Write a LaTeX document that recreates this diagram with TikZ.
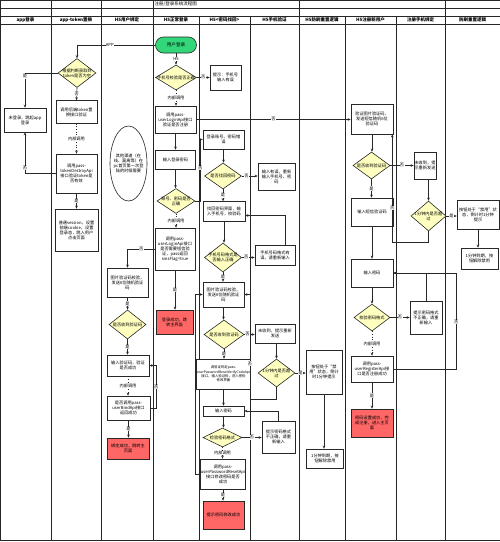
\documentclass[tikz,border=0pt]{standalone}
\usepackage{fontspec}
\setmainfont{Noto Sans CJK SC}
\usetikzlibrary{arrows.meta,shapes.geometric,calc}
\definecolor{linec}{RGB}{40,40,40}
\definecolor{diafill}{RGB}{255,255,192}
\definecolor{redfill}{RGB}{255,102,102}
\definecolor{greenfill}{RGB}{51,214,120}
\tikzset{
  base/.style={font=\fontsize{4.2}{5}\selectfont, align=center, inner sep=0.5pt},
  bx/.style={base, rectangle, draw=linec, fill=white, line width=0.6pt},
  redbx/.style={bx, fill=redfill},
  dia/.style={diamond, draw=linec, fill=diafill, line width=0.6pt, inner sep=0pt},
  dtxt/.style={base},
  arr/.style={-{Stealth[length=3pt,width=2.6pt]}, line width=0.6pt, draw=linec},
  darr/.style={arr, dotted},
  lab/.style={base, fill=white, inner sep=0.4pt},
  lane/.style={line width=0.7pt, draw=black!85},
  hdr/.style={font=\fontsize{4.5}{5}\selectfont\bfseries, inner sep=0pt}
}
\begin{document}
\begin{tikzpicture}[x=1pt,y=-1pt]
\useasboundingbox (0,0) rectangle (500,542);
\fill[white] (0,0) rectangle (500,542);
% frame and lanes
\draw[lane] (0,0.5) rectangle (500,540);
\foreach \y in {8,16,24} \draw[lane] (0,\y) -- (500,\y);
\foreach \x in {51,101,153,299,445} \draw[lane] (\x,0.5) -- (\x,540);
\foreach \x in {199,250,345,396} \draw[lane] (\x,16) -- (\x,540);
\node[base, anchor=west, font=\fontsize{4.5}{5}\selectfont] (title) at (154,4.3) {注册/登录系统流程图};
\node[hdr] (h1) at (25.5,20) {app登录};
\node[hdr] (h2) at (76,20) {app-token置换};
\node[hdr] (h3) at (127,20) {H5用户绑定};
\node[hdr] (h4) at (176,20) {H5正常登录};
\node[hdr] (h5) at (224.5,20) {H5<密码找回>};
\node[hdr] (h6) at (274.5,20) {H5手机验证};
\node[hdr] (h7) at (322,20) {H5防刷重置逻辑};
\node[hdr] (h8) at (370.5,20) {H5注册新用户};
\node[hdr] (h9) at (420.5,20) {注册手机绑定};
\node[hdr] (h10) at (472.5,20) {防刷重置逻辑};

% app lane
\node[bx, minimum width=42pt, minimum height=24pt] (nA1) at (25,120) {未登录，跳起app\\登录};
% token lane
\node[dia, minimum width=38pt, minimum height=29pt] (dT1) at (77,73) {};
\node[dtxt] (dT1t) at (dT1) {根据判断获取到\\token是否为空};
\node[bx, minimum width=41pt, minimum height=23pt] (nT1) at (76.5,112) {调用后端token置\\换接口验证};
\node[bx, minimum width=41pt, minimum height=39pt] (nT2) at (76.5,173.5) {调用pass-\\tokenDestroyApi\\接口验证token是\\否有效};
\node[bx, minimum width=43pt, minimum height=42pt] (nT3) at (76.5,230) {普通session，设置\\前端cookie，设置\\登录态，跳入用户\\点击页面};
% bind lane
\node[ellipse, draw=linec, fill=white, line width=0.6pt, minimum width=37pt, minimum height=75pt, inner sep=0pt] (eB) at (128.5,163.5) {};
\node[base] (eBt) at (eB) {其他渠道（在\\线、莫离等）在\\pc首页第一次登\\陆的时候需要};
\node[bx, minimum width=41pt, minimum height=29pt] (nB1) at (127.5,282.5) {图片验证码校验，\\发送6位随机验证\\码};
\node[dia, minimum width=37pt, minimum height=29pt] (dB1) at (127.5,324.5) {};
\node[dtxt] (dB1t) at (dB1) {是否收到验证码};
\node[bx, minimum width=42pt, minimum height=21pt] (nB2) at (128,365.5) {输入验证码，验证\\是否成功};
\node[bx, minimum width=43pt, minimum height=24pt] (nB3) at (128.5,408) {是否调用pass-\\userBindApi接口\\返回成功};
\node[redbx, minimum width=42pt, minimum height=21pt] (rB) at (128,448.5) {绑定成功，跳转主\\页面};
% login lane
\node[base, draw=linec, fill=greenfill, line width=0.6pt, rounded corners=8pt, minimum width=41pt, minimum height=16pt, font=\fontsize{4.6}{5}\selectfont] (oL) at (176,45) {用户登录};
\node[dia, minimum width=41pt, minimum height=25pt] (dL1) at (176,77.5) {};
\node[dtxt] (dL1t) at (dL1) {手机号校验是否正确};
\node[bx, minimum width=41pt, minimum height=27pt] (nL1) at (175.5,119.5) {调用pass-\\userLoginApi接口\\验证是否注册};
\node[bx, minimum width=40pt, minimum height=19pt] (nL2) at (175.5,159.5) {输入登录密码};
\node[dia, minimum width=38pt, minimum height=25pt] (dL2) at (176,201) {};
\node[dtxt] (dL2t) at (dL2) {账号、密码是否\\正确};
\node[bx, minimum width=40pt, minimum height=42pt] (nL3) at (175,249) {调用pass-\\userLoginApi接口\\是否需要短信验\\证，pass返回\\smsFlag=true};
\node[redbx, minimum width=37pt, minimum height=24pt] (rL) at (174.5,322) {登录成功，跳\\转主界面};
% password lane
\node[bx, minimum width=31pt, minimum height=25pt] (nM0) at (225.5,77.5) {提示：手机号\\输入有误};
\node[bx, minimum width=41pt, minimum height=19pt] (nP1) at (223.5,139.5) {登录账号、密码错\\误};
\node[dia, minimum width=37pt, minimum height=26pt] (dP1) at (223,176) {};
\node[dtxt] (dP1t) at (dP1) {是否找回密码};
\node[bx, minimum width=42pt, minimum height=20pt] (nP2) at (224,211.5) {找回密码界面，输\\入手机号，校验码};
\node[dia, minimum width=37pt, minimum height=29pt] (dP2) at (223,257.5) {};
\node[dtxt] (dP2t) at (dP2) {手机号码格式是\\否输入正确};
\node[bx, minimum width=41pt, minimum height=25pt] (nP3) at (223.5,294.5) {图片验证码校验，\\发送6位随机验证\\码};
\node[dia, minimum width=40pt, minimum height=29pt] (dP3) at (224,334.5) {};
\node[dtxt] (dP3t) at (dP3) {是否收到验证码};
\node[bx, minimum width=47pt, minimum height=30pt, font=\fontsize{3.4}{4.4}\selectfont] (nP4) at (223.5,374) {调验证码走pass-\\userPasswordResetVerifyCodeApi\\接口，输入验证码，进入密码\\修改界面};
\node[bx, minimum width=41pt, minimum height=10pt] (nP5) at (223.5,411) {输入密码};
\node[dia, minimum width=39pt, minimum height=19pt] (dP4) at (222.5,437.5) {};
\node[dtxt] (dP4t) at (dP4) {检验密码格式};
\node[bx, minimum width=42pt, minimum height=30pt] (nP6) at (223,474) {调用pass-\\userPasswordResetApi\\接口修改密码是否\\成功};
\node[redbx, minimum width=41pt, minimum height=28pt] (rP) at (223.5,515) {提示密码修改成功};
% phone lane
\node[bx, minimum width=37pt, minimum height=27pt] (nM1) at (276.5,176.5) {输入有误，重新\\输入手机号、密\\码};
\node[bx, minimum width=40pt, minimum height=20pt] (nM2) at (275,255) {手机号码格式有\\误，请重新输入};
\node[bx, minimum width=40pt, minimum height=19pt] (nM3) at (275,333.5) {未收到，提示重新\\发送};
\node[dia, minimum width=37pt, minimum height=28pt] (dM1) at (276.5,373) {};
\node[dtxt] (dM1t) at (dM1) {1分钟内是否超\\过};
\node[bx, minimum width=33pt, minimum height=32pt] (nM4) at (278.5,437) {提示密码格式\\不正确，请重\\新输入};
% H5 anti-brush lane
\node[bx, minimum width=36pt, minimum height=44pt] (nF1) at (324,372) {按钮处于“禁\\用”状态，倒计\\时1分钟提示};
\node[bx, minimum width=37pt, minimum height=19pt] (nF2) at (325,458.5) {1分钟到期，按\\钮解除禁用};
% register lane
\node[bx, minimum width=42pt, minimum height=30pt] (nR1) at (372,119) {验证图片验证码，\\发送短信随机6位\\验证码};
\node[dia, minimum width=37pt, minimum height=27pt] (dR1) at (371.5,165.5) {};
\node[dtxt] (dR1t) at (dR1) {是否收到验证码};
\node[bx, minimum width=42pt, minimum height=28pt] (nR2) at (372,212) {输入短信验证码};
\node[bx, minimum width=42pt, minimum height=28pt] (nR3) at (372,273) {输入密码};
\node[dia, minimum width=36pt, minimum height=27pt] (dR2) at (372,317.5) {};
\node[dtxt] (dR2t) at (dR2) {校验密码格式};
\node[bx, minimum width=42pt, minimum height=26pt] (nR4) at (372,369) {调用pass-\\userRegisterApi接\\口是否注册成功};
\node[redbx, minimum width=42pt, minimum height=28pt] (rR) at (372,423) {密码设置成功，完\\成注册，进入主页\\面};
% register phone lane
\node[bx, minimum width=22pt, minimum height=27pt] (nS1) at (425,165.5) {未收到，提\\示重新发送};
\node[dia, minimum width=35pt, minimum height=30pt] (dS1) at (428.5,216) {};
\node[dtxt] (dS1t) at (dS1) {1分钟内是否超\\过};
\node[bx, minimum width=32pt, minimum height=33pt] (nS2) at (426,317.5) {提示密码格式\\不正确，请重\\新输入};
% anti-brush lane
\node[bx, minimum width=42pt, minimum height=29pt] (nX1) at (478,214.5) {按钮处于“禁用”状\\态，倒计时1分钟\\提示};
\node[bx, minimum width=37pt, minimum height=21pt] (nX2) at (479.5,258.5) {1分钟到期，按\\钮解除禁用};

% connectors
\draw[arr] (oL.west) -| node[lab, pos=0.29] {APP} (dT1.north);
\draw[arr] (oL.south) -- node[lab] {H5} (dL1.north);
\draw[arr] (dT1.west) -| node[lab, pos=0.55] {是} (nA1.north);
\draw[arr] (dT1.south) -- node[lab] {否} (nT1.north);
\draw[darr] (nT1.south) -- node[lab] {内部调用} (nT2.north);
\draw[arr] (nT2.west) -| node[lab, pos=0.57] {否} (nA1.south);
\draw[arr] (nT2.south) -- node[lab] {是} (nT3.north);

\draw[arr] (dL1.east) -- node[lab] {否} (dL1.east -| nM0.west);
\draw[darr] (dL1.south) -- node[lab] {内部调用} (dL1.south |- nL1.north);
\draw[arr] (nL1.east) -- node[lab] {否} (nL1.east -| nR1.west);
\draw[arr] (nL1.south) -- (nL1.south |- nL2.north);
\draw[arr] (nL2.south) -- (nL2.south |- dL2.north);
\draw[arr] (dL2.east) -- ++(5,0) |- node[lab, pos=0.27] {否} (nP1.west);
\draw[darr] (dL2.south) -- node[lab] {内部调用} (dL2.south |- nL3.north);
\draw[arr] (nL3.west) -| node[lab, pos=0.25] {否} (nB1.north);
\draw[arr] (nL3.south) -- node[lab] {是} (nL3.south |- rL.north);

\draw[arr] (nB1.south) -- node[lab] {是} (dB1.north);
\draw[arr] (dB1.south) -- node[lab] {是} (dB1.south |- nB2.north);
\draw[darr] (nB2.south) -- node[lab] {内部调用} (nB2.south |- nB3.north);
\draw[arr] (nB3.south) -- node[lab] {是} (nB3.south |- rB.north);
\draw[arr] (nB3.east) -- ++(6,0) |- node[lab, pos=0.25] {否} (nB2.east);

\draw[arr] (nP1.south) -- (nP1.south |- dP1.north);
\draw[arr] (dP1.east) -- node[lab, pos=0.3] {否} (dP1.east -| nM1.west);
\draw[arr] (dP1.south) -- node[lab] {是} (dP1.south |- nP2.north);
\draw[arr] (nP2.south) -- (nP2.south |- dP2.north);
\draw[arr] (dP2.east) -- node[lab, pos=0.35] {否} (dP2.east -| nM2.west);
\draw[arr] ([xshift=10pt]nM2.north) |- ([yshift=-4pt]nP2.east);
\draw[arr] (dP2.south) -- node[lab] {是} (dP2.south |- nP3.north);
\draw[arr] (nP3.south) -- (nP3.south |- dP3.north);
\draw[arr] (dP3.east) -- node[lab, pos=0.3] {否} (dP3.east -| nM3.west);
\draw[arr] (dM1.north |- nM3.south) -- (dM1.north);
\draw[arr] (dM1.east) -- node[lab] {是} (dM1.east -| nF1.west);
\draw[arr] (dM1.south) -- ++(0,12) -- ++(-26.5,0) |- node[lab, pos=0.17] {否} (nP3.east);
\draw[arr] (nF1.south) -- (nF1.south |- nF2.north);
\draw[arr] (dP3.south) -- node[lab] {是} (dP3.south |- nP4.north);
\draw[arr] (nP4.south) -- (nP4.south |- nP5.north);
\draw[arr] (nP5.south) -- (nP5.south |- dP4.north);
\draw[arr] (dP4.east) -- node[lab] {否} (dP4.east -| nM4.west);
\draw[arr] (nM4.north) |- (nP5.east);
\draw[darr] (dP4.south) -- node[lab] {内部调用} (dP4.south |- nP6.north);
\draw[arr] (nP6.south) -- node[lab] {是} (nP6.south |- rP.north);
\draw[arr] (nP6.west) -- ++(-5,0) |- (nP3.west);

\draw[arr] (nR1.south) -- (nR1.south |- dR1.north);
\draw[arr] (dR1.east) -- node[lab] {否} (dR1.east -| nS1.west);
\draw[arr] (dS1.north |- nS1.south) -- (dS1.north);
\draw[arr] (dS1.east) -- node[lab] {是} (dS1.east -| nX1.west);
\draw[arr] (nX1.south) -- (nX1.south |- nX2.north);
\draw[arr] (dS1.south) -- ++(0,11) -| node[lab, pos=0.66] {否} ([xshift=-1pt]nR1.south east);
\draw[arr] (dR1.south) -- node[lab] {是} (dR1.south |- nR2.north);
\draw[arr] (nR2.south) -- (nR2.south |- nR3.north);
\draw[arr] (nR3.south) -- (nR3.south |- dR2.north);
\draw[arr] (dR2.east) -- node[lab] {否} (dR2.east -| nS2.west);
\draw[arr] (nS2.north) |- (nR3.east);
\draw[darr] (dR2.south) -- node[lab] {内部调用} (dR2.south |- nR4.north);
\draw[arr] (nR4.east) -- ++(63,0) |- node[lab, pos=0.245] {否} (nR3.east);
\draw[arr] (nR4.south) -- node[lab] {是} (nR4.south |- rR.north);
\end{tikzpicture}
\end{document}
